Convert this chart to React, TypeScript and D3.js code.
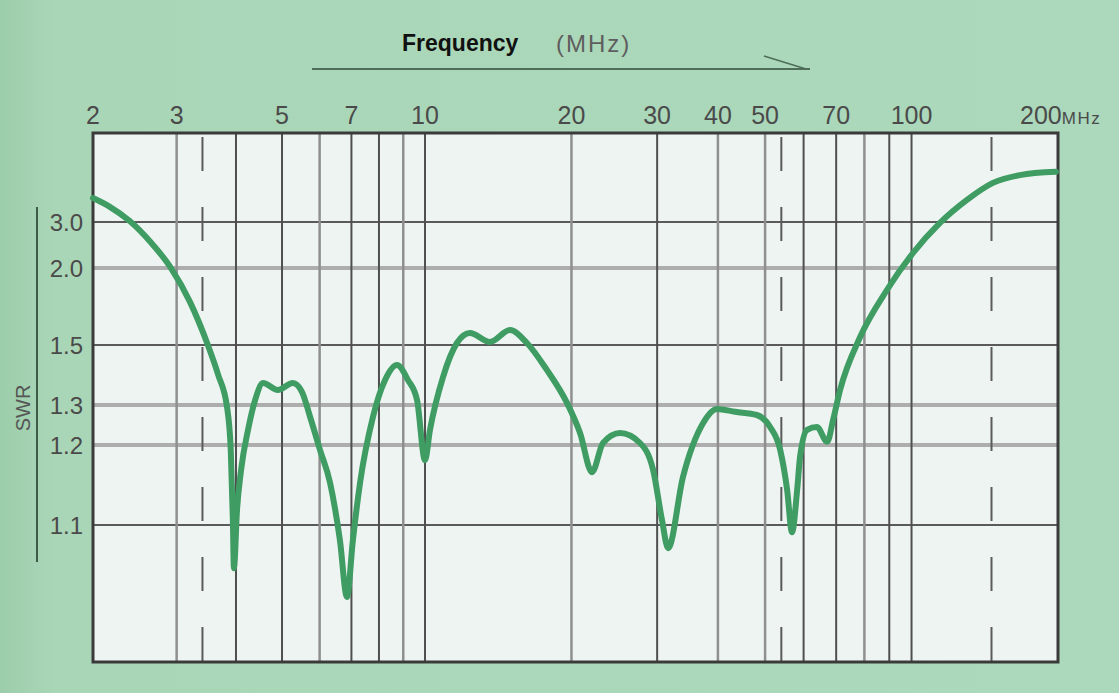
import React from 'react';
import * as d3 from 'd3';

// frequency axis (MHz)
const freqTicks = [2, 3, 5, 7, 10, 20, 30, 40, 50, 70, 100, 200];
const gridFreqs = [3, 4, 5, 6, 7, 8, 9, 10, 20, 30, 40, 50, 60, 70, 80, 90, 100];
const lightFreqs = [3, 6, 9, 20, 40, 50, 80];
const dashedFreqs = [3.4, 54, 146];

// SWR axis
const swrTicks = [3.0, 2.0, 1.5, 1.3, 1.2, 1.1];
const swrTickLabels = ['3.0', '2.0', '1.5', '1.3', '1.2', '1.1'];
const heavySwr = [2.0, 1.3, 1.2];

// measured curve
const freqMHz = [2.0, 2.17, 2.39, 2.64, 2.91, 3.2, 3.49, 3.67, 3.83, 3.90, 3.94, 3.96, 4.02, 4.10, 4.24, 4.39, 4.56, 4.9, 5.27, 5.51, 5.73,
    6.01, 6.31, 6.62, 6.85, 7.05, 7.3, 7.77, 8.24, 8.73, 9.21, 9.62, 10.0, 10.24, 10.89, 11.63, 12.37, 13.6, 14.95, 16.2, 17.8,
    19.58, 20.83, 22.04, 23.22, 25.17, 27.67, 29.43, 30.7, 31.6, 33.9, 37.3, 39.8, 43.4, 48.1, 51.2, 53.7, 55.5, 56.8, 58.2, 59.0,
    61.0, 63.9, 67.1, 69.0, 71.3, 78.4, 89.0, 100.7, 114.4, 130, 147, 167, 198];
const swrValues = [3.52, 3.33, 3.02, 2.57, 2.02, 1.78, 1.5, 1.40, 1.295, 1.194, 1.106, 1.046, 1.119, 1.169, 1.2375, 1.317, 1.373, 1.35, 1.373, 1.343, 1.27,
    1.194, 1.153, 1.081, 1.01, 1.081, 1.153, 1.27, 1.383, 1.433, 1.383, 1.317, 1.181, 1.238, 1.393, 1.513, 1.578, 1.52, 1.597, 1.513, 1.417,
    1.307, 1.23, 1.166, 1.205, 1.23, 1.205, 1.169, 1.106, 1.071, 1.16, 1.255, 1.29, 1.283, 1.275, 1.245, 1.194, 1.144, 1.091, 1.144, 1.185,
    1.238, 1.245, 1.208, 1.263, 1.35, 1.552, 1.857, 2.326, 2.98, 3.48, 3.85, 4.02, 4.09];

const W = 1119, H = 693;
const plotTop = 133, plotBottom = 662;
const narrow = '"Liberation Sans Narrow", "Arial Narrow", "Liberation Sans", sans-serif';
const sans = '"Liberation Sans", Arial, sans-serif';

export default function App() {
    // the printed scale is a hand-drawn log scale, a little wider above 10 MHz
    const x = d3.scaleLog().domain([2, 10, 200]).range([93, 425, 1058]);
    // SWR ruling is non-uniform; piecewise through the printed lines
    const y = d3.scaleLinear().domain([1.1, 1.2, 1.3, 1.5, 2, 3]).range([525, 445, 405, 345, 268, 222]);

    const points = freqMHz.map((f, i) => [f, swrValues[i]] as [number, number]);
    const line = d3.line<[number, number]>()
        .x(d => x(d[0]))
        .y(d => y(d[1]))
        .curve(d3.curveMonotoneX);

    const x0 = x(2), x1 = x(200);

    return (
        <svg width={W} height={H} style={{ position: 'absolute', left: 0, top: 0 }}>
            <defs>
                <linearGradient id="bg" x1="0" x2="1" y1="0" y2="0">
                    <stop offset="0" stopColor="#9ccdaa" />
                    <stop offset="0.05" stopColor="#aad6b8" />
                    <stop offset="1" stopColor="#acd8bb" />
                </linearGradient>
            </defs>
            <rect width={W} height={H} fill="url(#bg)" />

            {/* title */}
            <text x={402} y={51} fontFamily={sans} fontWeight="bold" fontSize={23} fill="#111">Frequency</text>
            <text x={556} y={52} fontFamily={sans} fontSize={24} letterSpacing={2} fill="#5e5e5e">(MHz)</text>
            <line x1={312} x2={810} y1={69} y2={69} stroke="#4e6e5a" strokeWidth={2} />
            <line x1={764} x2={806} y1={56} y2={69} stroke="#4e6e5a" strokeWidth={1.5} />

            {/* plot background */}
            <rect x={x0} y={plotTop} width={x1 - x0} height={plotBottom - plotTop} fill="#eef4f2" />

            {/* horizontal SWR lines */}
            {swrTicks.map(s => {
                const heavy = heavySwr.includes(s);
                return <line key={'h' + s} x1={x0} x2={x1} y1={y(s)} y2={y(s)}
                    stroke={heavy ? '#adadad' : '#5a5a5a'} strokeWidth={heavy ? 4 : 2} />;
            })}

            {/* vertical frequency lines */}
            {gridFreqs.map(f => {
                const light = lightFreqs.includes(f);
                return <line key={'v' + f} x1={x(f)} x2={x(f)} y1={plotTop} y2={plotBottom}
                    stroke={light ? '#8f8f8f' : '#4f4f4f'} strokeWidth={light ? 2.5 : 2} />;
            })}
            {dashedFreqs.map(f => (
                <line key={'d' + f} x1={x(f)} x2={x(f)} y1={plotTop + 4} y2={plotBottom}
                    stroke="#5a5a5a" strokeWidth={2} strokeDasharray="34,36" />
            ))}

            {/* frame */}
            <rect x={x0} y={plotTop} width={x1 - x0} height={plotBottom - plotTop} fill="none" stroke="#3a3a3a" strokeWidth={3} />

            {/* curve */}
            <path d={line(points) || ''} fill="none" stroke="#3f9c62" strokeWidth={6} strokeLinejoin="round" strokeLinecap="round" />

            {/* top tick labels */}
            {freqTicks.map(f => f === 200 ? (
                <text key={'t' + f} x={x(f) - 38} y={124} fontFamily={narrow} fontSize={25} fill="#4a4a4a">
                    200<tspan fontFamily={sans} fontSize={17} letterSpacing={1.5}>MHz</tspan>
                </text>
            ) : (
                <text key={'t' + f} x={x(f)} y={124} textAnchor="middle" fontFamily={narrow} fontSize={25} fill="#4a4a4a">{f}</text>
            ))}

            {/* SWR axis */}
            <line x1={37} x2={37} y1={207} y2={562} stroke="#3d5c48" strokeWidth={2} />
            {swrTicks.map((s, i) => (
                <text key={'s' + s} x={83} y={y(s)} dy="0.36em" textAnchor="end" fontFamily={narrow} fontSize={24} fill="#4a4a4a">{swrTickLabels[i]}</text>
            ))}
            <text transform="translate(30,408) rotate(-90)" textAnchor="middle" fontFamily={sans} fontSize={20} fill="#555">SWR</text>
        </svg>
    );
}
